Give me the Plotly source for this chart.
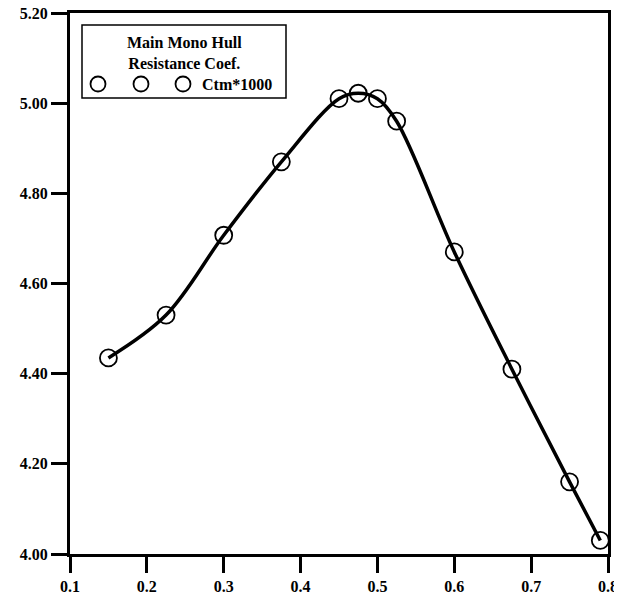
import plotly.graph_objects as go

# Data
froude = [0.15, 0.225, 0.30, 0.375, 0.45, 0.475, 0.50, 0.525, 0.60, 0.675, 0.75, 0.79]
ctm1000 = [4.435, 4.53, 4.707, 4.87, 5.01, 5.022, 5.01, 4.96, 4.67, 4.41, 4.16, 4.03]

x_ticks = [0.1, 0.2, 0.3, 0.4, 0.5, 0.6, 0.7, 0.8]
y_ticks = [4.00, 4.20, 4.40, 4.60, 4.80, 5.00, 5.20]

legend_title = "Main Mono Hull<br>Resistance Coef."
series_name = "Ctm*1000"

FONT = "Liberation Serif"

fig = go.Figure()
fig.add_trace(go.Scatter(
    x=froude, y=ctm1000, mode="lines",
    line=dict(color="black", width=3.5, shape="spline", smoothing=1.0),
    showlegend=False, hoverinfo="skip", cliponaxis=False,
))
fig.add_trace(go.Scatter(
    x=froude, y=ctm1000, mode="markers", name=series_name,
    marker=dict(symbol="circle-open", size=17, color="black", line=dict(width=1.8, color="black")),
    showlegend=False, cliponaxis=False,
))

# page body has an 8px margin: figure sits at (8, 8) in the window
OFF = 8
W, H = 622 - OFF, 604 - OFF
# plot area in window pixels: left 70, right 608, top 13, bottom 554
ml, mr, mt, mb = 70 - OFF, W - (608 - OFF), 13 - OFF, H - (554 - OFF)
pw, ph = W - ml - mr, H - mt - mb

def px(xp):
    return (xp - OFF - ml) / pw

def py(yp):
    return (H - mb - (yp - OFF)) / ph

shapes = [
    dict(type="rect", xref="paper", yref="paper", x0=px(82), x1=px(286), y0=py(98), y1=py(25),
         line=dict(color="black", width=1.5), fillcolor="white", layer="above"),
]
for cx in (98, 141, 183):
    shapes.append(dict(type="circle", xref="paper", yref="paper",
                       xsizemode="pixel", ysizemode="pixel",
                       xanchor=px(cx), yanchor=py(84),
                       x0=-7.5, x1=7.5, y0=-7.5, y1=7.5,
                       line=dict(color="black", width=1.8), layer="above"))

annotations = [
    dict(xref="paper", yref="paper", x=px(184), y=py(53), text=legend_title, showarrow=False,
         xanchor="center", yanchor="middle", align="center",
         font=dict(family=FONT, size=16, color="black", weight="bold")),
    dict(xref="paper", yref="paper", x=px(200), y=py(84), text=series_name, showarrow=False,
         xanchor="left", yanchor="middle",
         font=dict(family=FONT, size=16, color="black", weight="bold")),
]

axis_common = dict(
    showline=True, linecolor="black", linewidth=3, mirror=True,
    ticks="outside", ticklen=16, tickwidth=3, tickcolor="black",
    showgrid=False, zeroline=False, automargin=False,
    ticklabeloverflow="allow",
    tickfont=dict(family=FONT, size=16, color="black", weight="bold"),
)

fig.update_layout(
    width=W, height=H,
    margin=dict(l=ml, r=mr, t=mt, b=mb),
    paper_bgcolor="white", plot_bgcolor="white",
    xaxis=dict(range=[0.1, 0.8], tickvals=x_ticks, tickformat=".1f", **axis_common),
    yaxis=dict(range=[4.0, 5.2], tickvals=y_ticks, tickformat=".2f", **axis_common),
    shapes=shapes, annotations=annotations,
    showlegend=False,
)

fig.write_html("out.html")
